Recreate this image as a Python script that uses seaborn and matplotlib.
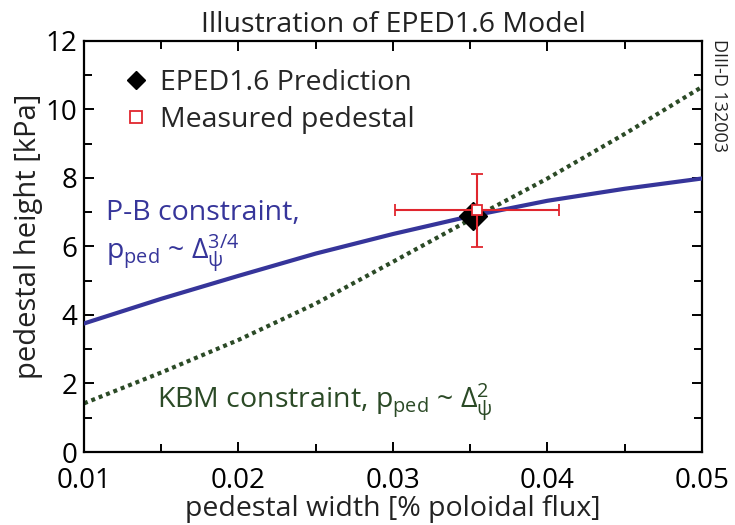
import matplotlib
matplotlib.use("Agg")
import matplotlib.pyplot as plt
from matplotlib.lines import Line2D
from matplotlib.ticker import MultipleLocator
import seaborn as sns
import pandas as pd

# Pedestal width (fraction of poloidal flux) sampled along both constraints
width = [0.010, 0.015, 0.020, 0.025, 0.030, 0.035, 0.040, 0.045, 0.050]
pb_height = [3.75, 4.47, 5.14, 5.79, 6.36, 6.88, 7.33, 7.68, 7.98]
kbm_height = [1.42, 2.32, 3.27, 4.33, 5.55, 6.78, 7.98, 9.28, 10.65]

# EPED1.6 prediction (intersection of the two constraints)
eped_width = [0.0352]
eped_height = [6.89]

# Measured pedestal with uncertainties
meas_width = [0.03546]
meas_height = [7.05]
meas_width_err = [0.0053]
meas_height_err = [1.07]

sns.set_theme(style="ticks")
plt.rcParams["font.family"] = ["Open Sans", "DejaVu Sans"]
plt.rcParams["mathtext.fontset"] = "custom"
plt.rcParams["mathtext.rm"] = "Open Sans"
plt.rcParams["mathtext.it"] = "Open Sans"

BLUE = "#36359a"
GREEN = "#2b4a26"
RED = "#e0262e"

curves = pd.DataFrame({"width": width, "pb": pb_height, "kbm": kbm_height})

fig = plt.figure(figsize=(7.35, 5.25), dpi=100)
ax = fig.add_axes([0.1143, 0.139, 0.8407, 0.7835])

sns.lineplot(data=curves, x="width", y="kbm", ax=ax, color=GREEN, lw=3.0,
             linestyle=(0, (0.95, 0.95)), dash_capstyle="butt", zorder=2)

sns.lineplot(data=curves, x="width", y="pb", ax=ax, color=BLUE, lw=3.0, zorder=3)

ax.plot(eped_width, eped_height, marker="D", ms=14.5, color="black", ls="none", zorder=4)

ax.errorbar(meas_width, meas_height, xerr=meas_width_err, yerr=meas_height_err,
            fmt="s", ms=7, mfc="white", mec=RED, mew=1.3, ecolor=RED,
            elinewidth=1.5, capsize=4, capthick=1.5, zorder=5)

ax.set_xlim(0.01, 0.05)
ax.set_ylim(0, 12)
ax.xaxis.set_major_locator(MultipleLocator(0.01))
ax.xaxis.set_minor_locator(MultipleLocator(0.005))
ax.yaxis.set_major_locator(MultipleLocator(2))
ax.yaxis.set_minor_locator(MultipleLocator(1))
ax.tick_params(which="both", direction="in", top=True, right=True,
               width=1.4, color="black", labelsize=20, labelcolor="black")
ax.tick_params(which="major", length=7)
ax.tick_params(which="minor", length=6)
ax.tick_params(axis="x", which="major", pad=11)
ax.tick_params(axis="y", which="major", pad=5)
ax.set_xticks([0.01, 0.02, 0.03, 0.04, 0.05])
ax.set_xticklabels(["0.01", "0.02", "0.03", "0.04", "0.05"])
ax.set_xticklabels([], minor=True)
for s in ax.spines.values():
    s.set_linewidth(1.6)
    s.set_color("black")

ax.set_xlabel("pedestal width [% poloidal flux]", fontsize=20.5, labelpad=0,
              color="#222222")
ax.set_ylabel("pedestal height [kPa]", fontsize=21, color="#222222")
ax.yaxis.set_label_coords(-0.066, 0.525)
ax.set_title("Illustration of EPED1.6 Model", fontsize=20.5, pad=6, color="#222222")

handles = [
    Line2D([], [], marker="D", ms=9, color="black", ls="none"),
    Line2D([], [], marker="s", ms=8, mfc="white", mec=RED, mew=1.3, ls="none"),
]
ax.legend(handles, ["EPED1.6 Prediction", "Measured pedestal"],
          loc="upper left", bbox_to_anchor=(0.045, 0.958), frameon=False,
          fontsize=20.5, handlelength=0.9, handletextpad=0.4, labelspacing=0.3,
          borderaxespad=0)

ax.text(0.0114, 6.76, "P-B constraint,", color=BLUE, fontsize=20.5, va="baseline")
ax.text(0.0114, 5.63, r"p$_{\mathrm{ped}}$ ~ Δ$_{ψ}^{3/4}$", color=BLUE,
        fontsize=20.5, va="baseline")
ax.text(0.0147, 1.28, r"KBM constraint, p$_{\mathrm{ped}}$ ~ Δ$_{ψ}^{2}$",
        color=GREEN, fontsize=20.5, va="baseline")

fig.text(0.978, 0.925, "DIII-D 132003", rotation=-90, fontsize=13,
         color="#222222", ha="center", va="top")

fig.savefig("out.png", dpi=100)
